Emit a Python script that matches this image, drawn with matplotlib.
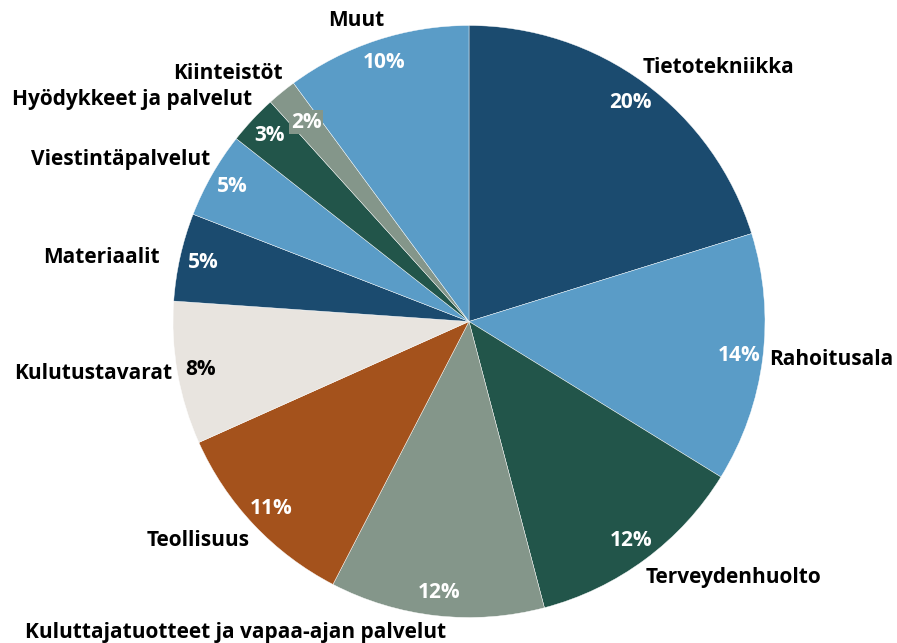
import numpy as np
import matplotlib
matplotlib.use('Agg')
from matplotlib import pyplot as plt

plt.rcParams['font.family'] = ['Open Sans', 'DejaVu Sans']

sectors = ['Tietotekniikka', 'Rahoitusala', 'Terveydenhuolto',
           'Kuluttajatuotteet ja vapaa-ajan palvelut', 'Teollisuus',
           'Kulutustavarat', 'Materiaalit', 'Viestintäpalvelut',
           'Hyödykkeet ja palvelut', 'Kiinteistöt', 'Muut']
shares = [20.2, 13.6, 12.1, 11.7, 10.7, 7.8, 4.8, 4.7, 2.7, 1.6, 10.1]

dark_blue = '#1b4b6f'
light_blue = '#5a9cc7'
dark_green = '#22554a'
grey_green = '#84968a'
orange = '#a4521c'
beige = '#e8e4df'
colors = [dark_blue, light_blue, dark_green, grey_green, orange, beige,
          dark_blue, light_blue, dark_green, grey_green, light_blue]

# label layout: offset in pixels from the wedge's outer edge midpoint, and alignment
label_offsets = [(74, 16, 'center'), (6, -1, 'left'), (0, -18, 'left'),
                 (-201, -17, 'center'), (-4, -16, 'right'), (-5, 0, 'right'),
                 (-20, -1, 'right'), (-2, 15, 'right'), (0, 20, 'right'),
                 (1, 19, 'right'), (-20, 20, 'center')]

W, H = 897, 643
cx, cy, R = 469, H - 321.5, 296
fs = 15

fig = plt.figure(figsize=(W / 100, H / 100), dpi=100)
ax = fig.add_axes([0, 0, 1, 1])
wedges, texts, autotexts = ax.pie(
    shares, colors=colors, startangle=90, counterclock=False,
    center=(cx, cy), radius=R, frame=True,
    autopct=lambda p: f'{p:.0f}%', pctdistance=0.92,
    wedgeprops={'edgecolor': 'white', 'linewidth': 0.3},
    textprops={'fontsize': fs, 'fontweight': 'bold', 'color': 'white'})
ax.set_xlim(0, W)
ax.set_ylim(0, H)
ax.set_aspect('equal')
ax.axis('off')

autotexts[5].set_color('black')
# small slice label sits a bit inward with a coloured box
w = wedges[9]
mid = np.deg2rad((w.theta1 + w.theta2) / 2)
autotexts[9].set_position((cx + 0.87 * R * np.cos(mid), cy + 0.87 * R * np.sin(mid)))
autotexts[9].set_bbox({'facecolor': grey_green, 'edgecolor': 'none', 'pad': 1})

for w, name, (dx, dy, ha) in zip(wedges, sectors, label_offsets):
    mid = np.deg2rad((w.theta1 + w.theta2) / 2)
    x = cx + R * np.cos(mid)
    y = cy + R * np.sin(mid)
    ax.annotate(name, (x, y), xytext=(dx, dy), textcoords='offset pixels',
                ha=ha, va='center', fontsize=fs, fontweight='bold', color='black')

fig.savefig('out.png', dpi=100)
